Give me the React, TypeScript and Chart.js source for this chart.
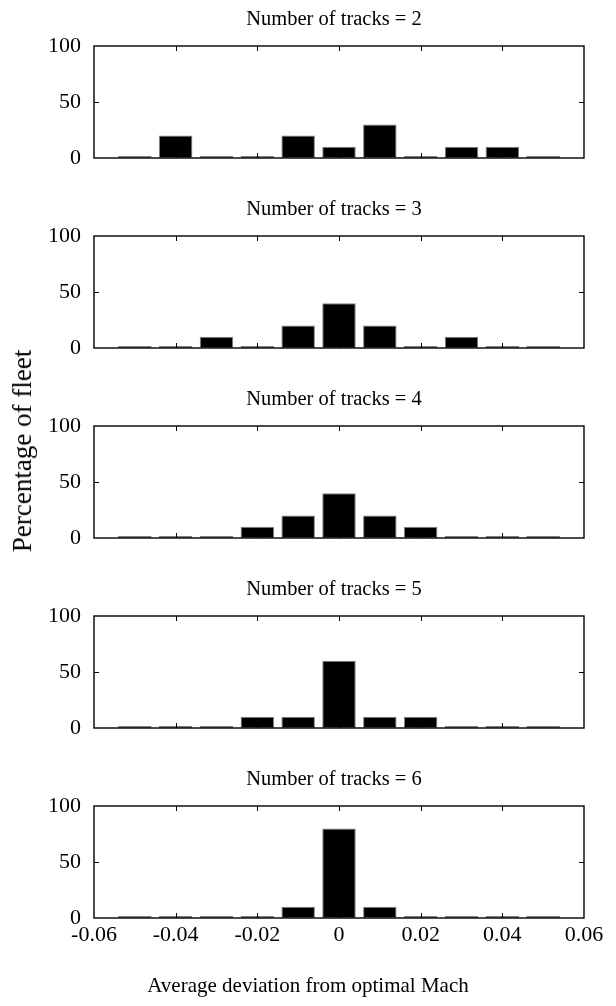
import React, { useEffect, useRef } from "react";
import { Chart, registerables } from "chart.js";

Chart.register(...registerables);

// ---- data ----
const BINS = [-0.05, -0.04, -0.03, -0.02, -0.01, 0, 0.01, 0.02, 0.03, 0.04, 0.05];
const TRACK_COUNTS = [2, 3, 4, 5, 6];
const TRACKS_2 = [0, 20, 0, 0, 20, 10, 30, 0, 10, 10, 0];
const TRACKS_3 = [0, 0, 10, 0, 20, 40, 20, 0, 10, 0, 0];
const TRACKS_4 = [0, 0, 0, 10, 20, 40, 20, 10, 0, 0, 0];
const TRACKS_5 = [0, 0, 0, 10, 10, 60, 10, 10, 0, 0, 0];
const TRACKS_6 = [0, 0, 0, 0, 10, 80, 10, 0, 0, 0, 0];
const SERIES = [TRACKS_2, TRACKS_3, TRACKS_4, TRACKS_5, TRACKS_6];
const X_TICKS = [-0.06, -0.04, -0.02, 0, 0.02, 0.04, 0.06];
const Y_TICKS = [0, 50, 100];
const X_LABEL = "Average deviation from optimal Mach";
const Y_LABEL = "Percentage of fleet";
const TITLE_PREFIX = "Number of tracks = ";

const FONT_FAMILY = '"Liberation Serif", "Times New Roman", Times, serif';
const TICK_FONT_SIZE = 22;
const TITLE_FONT_SIZE = 20.5;
const XLABEL_FONT_SIZE = 21;
const YLABEL_FONT_SIZE = 27;

const W = 616;
const H = 1006;
const PANEL_STEP = 190;
const PLOT_LEFT = 94;
const PLOT_RIGHT = 584;
const PLOT_TOP = 46;
const PLOT_BOTTOM = 158;

const framePlugin = {
  id: "frameTicks",
  afterDatasetsDraw(chart: any) {
    const { ctx, chartArea: a, scales } = chart;
    const L = 5;
    ctx.save();
    ctx.strokeStyle = "#000";
    ctx.lineWidth = 1.4;
    ctx.strokeRect(a.left, a.top, a.right - a.left, a.bottom - a.top);
    ctx.lineWidth = 1;
    ctx.beginPath();
    scales.x.ticks.forEach((t: any) => {
      const px = Math.round(scales.x.getPixelForValue(t.value)) + 0.5;
      if (px <= a.left + 1 || px >= a.right - 1) return;
      ctx.moveTo(px, a.bottom);
      ctx.lineTo(px, a.bottom - L);
      ctx.moveTo(px, a.top);
      ctx.lineTo(px, a.top + L);
    });
    scales.y.ticks.forEach((t: any) => {
      const py = Math.round(scales.y.getPixelForValue(t.value)) + 0.5;
      if (py <= a.top + 1 || py >= a.bottom - 1) return;
      ctx.moveTo(a.left, py);
      ctx.lineTo(a.left + L, py);
      ctx.moveTo(a.right, py);
      ctx.lineTo(a.right - L, py);
    });
    ctx.stroke();
    ctx.restore();
  },
};

function fmt(v: number) {
  return Number(v.toFixed(2)).toString();
}

function Panel({ index }: { index: number }) {
  const ref = useRef<HTMLCanvasElement | null>(null);
  const isLast = index === SERIES.length - 1;
  const height = isLast ? H - PANEL_STEP * index : PANEL_STEP;
  useEffect(() => {
    const values = SERIES[index];
    const font = { family: FONT_FAMILY, size: TICK_FONT_SIZE };
    const chart = new Chart(ref.current as HTMLCanvasElement, {
      type: "bar",
      data: {
        datasets: [
          {
            data: BINS.map((x, i) => ({ x, y: values[i] })) as any,
            backgroundColor: (c: any) => (c.raw && c.raw.y === 0 ? "#808080" : "#000"),
            borderColor: "#808080",
            borderWidth: 1,
            borderSkipped: false,
            categoryPercentage: 0.82,
            barPercentage: 1,
            minBarLength: 2,
          } as any,
        ],
      },
      options: {
        animation: false,
        responsive: false,
        maintainAspectRatio: false,
        layout: { padding: { left: 0, right: W - PLOT_RIGHT, top: PLOT_TOP, bottom: 0 } },
        plugins: {
          legend: { display: false },
          tooltip: { enabled: false },
          title: { display: false },
        },
        scales: {
          x: {
            type: "linear",
            min: -0.06,
            max: 0.06,
            offset: false,
            grid: { display: false, drawTicks: false, offset: false },
            border: { display: false },
            afterBuildTicks: (s: any) => {
              s.ticks = X_TICKS.map((v) => ({ value: v }));
            },
            afterFit: (s: any) => {
              s.height = height - PLOT_BOTTOM;
            },
            ticks: {
              display: isLast,
              font,
              color: "#000",
              padding: 4,
              maxRotation: 0,
              autoSkip: false,
              callback: (v: any) => fmt(Number(v)),
            },
          },
          y: {
            type: "linear",
            min: 0,
            max: 100,
            grid: { display: false, drawTicks: false },
            border: { display: false },
            afterBuildTicks: (s: any) => {
              s.ticks = Y_TICKS.map((v) => ({ value: v }));
            },
            afterFit: (s: any) => {
              s.width = PLOT_LEFT;
            },
            ticks: {
              font,
              color: "#000",
              padding: 13,
              callback: (v: any) => String(v),
            },
          },
        } as any,
      },
      plugins: [framePlugin],
    });
    return () => chart.destroy();
  }, [index]);
  return (
    <canvas
      ref={ref}
      width={W}
      height={height}
      style={{ position: "absolute", left: 0, top: PANEL_STEP * index, width: W, height }}
    />
  );
}

export default function App() {
  const textStyle: React.CSSProperties = {
    position: "absolute",
    fontFamily: FONT_FAMILY,
    lineHeight: "30px",
    color: "#000",
    whiteSpace: "nowrap",
  };
  return (
    <div style={{ position: "absolute", left: 0, top: 0, width: W, height: H, background: "#fff", overflow: "hidden" }}>
      {SERIES.map((_, i) => (
        <Panel key={i} index={i} />
      ))}
      {TRACK_COUNTS.map((n, i) => (
        <div
          key={"t" + i}
          style={{
            ...textStyle,
            fontSize: TITLE_FONT_SIZE,
            left: 334,
            top: PANEL_STEP * i + 18 - 15,
            transform: "translateX(-50%)",
          }}
        >
          {TITLE_PREFIX + n}
        </div>
      ))}
      <div
        style={{
          ...textStyle,
          fontSize: XLABEL_FONT_SIZE,
          left: 308,
          top: 985 - 15,
          transform: "translateX(-50%)",
        }}
      >
        {X_LABEL}
      </div>
      <div
        style={{
          ...textStyle,
          fontSize: YLABEL_FONT_SIZE,
          left: 22,
          top: 451,
          transform: "translate(-50%, -50%) rotate(-90deg)",
        }}
      >
        {Y_LABEL}
      </div>
    </div>
  );
}
